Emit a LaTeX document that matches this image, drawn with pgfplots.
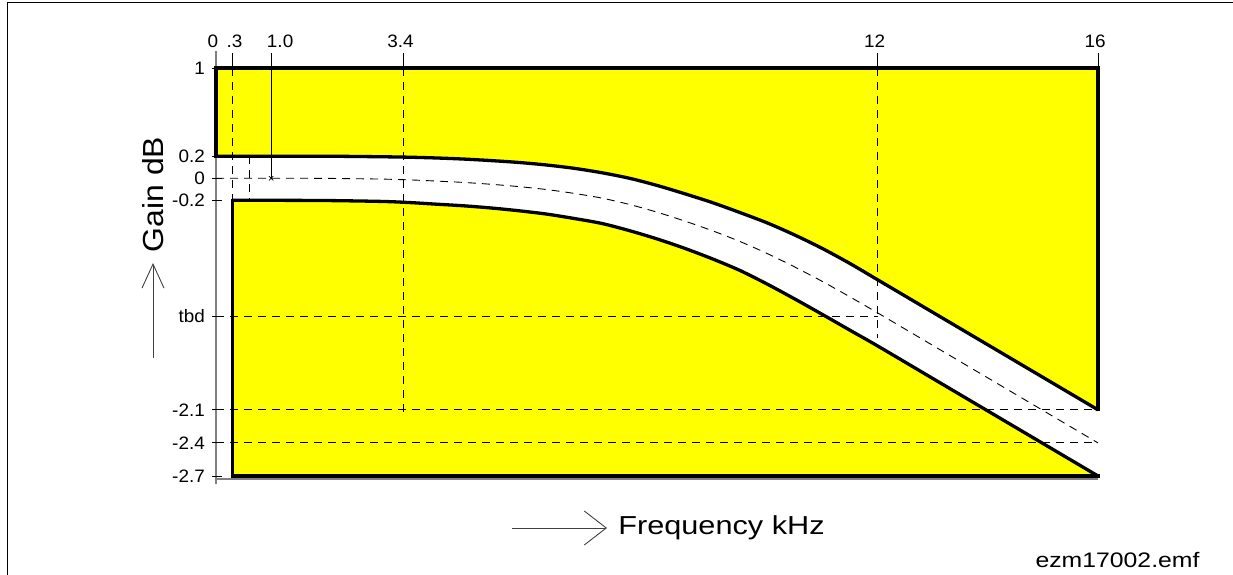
\documentclass[border=0pt]{standalone}
\usepackage{fontspec}
\setmainfont{Liberation Sans}[FakeStretch=1.18]
\newfontfamily\tickfont{Liberation Sans}[FakeStretch=1.05]
\newfontfamily\gainfont{Liberation Sans}[FakeStretch=1.1]
\usepackage{pgfplots}
\usepackage{pgfplotstable}
\pgfplotsset{compat=1.18}
\usetikzlibrary{arrows.meta}
\definecolor{maskyellow}{RGB}{255,255,0}
\definecolor{axisgray}{RGB}{128,128,128}
\pgfplotstableread{
x y
0 0.2
1 0.2
2 0.2
3 0.195
3.5 0.191
4 0.184
4.5 0.174
5 0.16
5.5 0.143
6 0.12
6.5 0.09
7 0.05
7.5 0.0
8 -0.065
8.5 -0.14
9 -0.22
9.5 -0.31
10 -0.405
10.5 -0.515
11 -0.637
11.5 -0.773
12 -0.92
13 -1.215
14 -1.51
15 -1.805
16 -2.1
}\upperdata
\pgfplotstableread{
x y
0.3 -0.2
1 -0.2
2 -0.202
3 -0.21
3.5 -0.22
4 -0.235
4.5 -0.25
5 -0.27
5.5 -0.295
6 -0.325
6.5 -0.365
7 -0.41
7.5 -0.475
8 -0.55
8.5 -0.635
9 -0.73
9.5 -0.835
10 -0.96
10.5 -1.095
11 -1.235
11.5 -1.378
12 -1.52
13 -1.815
14 -2.11
15 -2.405
16 -2.7
}\lowerdata
\pgfplotstableread{
x y
0 0
1 0
2 -0.001
3 -0.0075
3.5 -0.0145
4 -0.0255
4.5 -0.038
5 -0.055
5.5 -0.076
6 -0.1025
6.5 -0.1375
7 -0.18
7.5 -0.2375
8 -0.3075
8.5 -0.3875
9 -0.475
9.5 -0.5725
10 -0.6825
10.5 -0.805
11 -0.936
11.5 -1.0755
12 -1.22
13 -1.515
14 -1.81
15 -2.105
16 -2.4
}\middata
\begin{document}
\begin{tikzpicture}[x=1pt,y=1pt]
% outer frame (left and top edges)
\draw[line width=1.3pt] (7.5,0) -- (7.5,572.5) -- (1233,572.5);
\begin{axis}[
  at={(216pt,99pt)}, anchor=south west,
  scale only axis, width=882pt, height=408pt,
  xmin=0, xmax=16, ymin=-2.7, ymax=1,
  clip=false,
  axis line style={draw=none},
  major tick length=0pt,
  tick style={draw=none},
  xtick={0,0.3,1,3.4,12,16},
  xticklabels={0,{\kern10pt.3},{\kern24pt1.0},3.4,12,16},
  xticklabel pos=upper,
  xticklabel style={anchor=base, inner sep=0pt, xshift=-3pt, yshift=20pt, font=\tickfont\fontsize{18}{21}\selectfont},
  ytick={-2.7,-2.4,-2.1,-1.25,-0.2,0,0.2,1},
  yticklabels={-2.7,-2.4,-2.1,tbd,-0.2,0,0.2,1},
  yticklabel style={anchor=east, inner sep=0pt, xshift=-11pt, font=\tickfont\fontsize{18}{21}\selectfont},
  outline/.style={black, line width=3.3pt, line join=miter},
  guide/.style={black, line width=0.9pt, dash pattern=on 8pt off 6pt},
]
% gray axis lines (behind the mask)
\draw[axisgray, line width=1.3pt] ([yshift=17pt]axis cs:0,1) -- ([yshift=-8pt]axis cs:0,-2.7);
\draw[axisgray, line width=1.3pt] ([yshift=-3pt]axis cs:0,-2.7) -- ([yshift=-3pt]axis cs:16,-2.7);
% yellow mask regions (fill)
\addplot[fill=maskyellow, draw=none] table {\upperdata} -- (axis cs:16,1) -- (axis cs:0,1) -- cycle;
\addplot[fill=maskyellow, draw=none] table {\lowerdata} -- (axis cs:0.3,-2.7) -- cycle;
% nominal response (dashed)
\addplot[guide, smooth] table {\middata};
% dashed guide lines
\addplot[guide] coordinates {(0.3,1) (0.3,-0.2)};
\addplot[guide] coordinates {(0.6,0.2) (0.6,-0.2)};
\addplot[guide] coordinates {(3.4,1) (3.4,-2.14)};
\addplot[guide] coordinates {(12,1) (12,-1.45)};
\addplot[guide] coordinates {(0,-1.25) (12,-1.25)};
\addplot[guide] coordinates {(0,-2.1) (16,-2.1)};
\addplot[guide] coordinates {(0,-2.4) (16,-2.4)};
\addplot[black, line width=0.9pt] coordinates {(1,1) (1,0)};
\addplot[only marks, mark=x, mark size=3pt, black, mark options={line width=0.8pt}] coordinates {(1,0)};
% mask outlines
\addplot[outline, line cap=rect] coordinates {(0,0.2) (0,1) (16,1) (16,-2.1)};
\addplot[outline, smooth, tension=0.5] table {\upperdata};
\addplot[outline, line cap=rect] coordinates {(16,-2.7) (0.3,-2.7) (0.3,-0.2)};
\addplot[outline, smooth, tension=0.5] table {\lowerdata};
% ticks
\pgfplotsinvokeforeach{0.3,1,3.4,12,16}{
  \draw[black, line width=0.9pt] ([yshift=1.6pt]axis cs:#1,1) -- ([yshift=15pt]axis cs:#1,1);
}
\pgfplotsinvokeforeach{-2.7,-2.4,-2.1,-1.25,-0.2,0,0.2,1}{
  \draw[black, line width=0.9pt] ([xshift=-4pt]axis cs:0,#1) -- ([xshift=6pt]axis cs:0,#1);
}
\end{axis}
% axis titles with arrows
\node[rotate=90, anchor=base, inner sep=0pt, font=\gainfont\fontsize{29}{33}\selectfont] at (163,380.5) {Gain dB};
\draw[black!75, line width=0.9pt, -{Straight Barb[length=24pt,width=22pt,line width=0.9pt]}] (153,217) -- (153,312);
\node[anchor=base, inner sep=0pt, font=\fontsize{26}{30}\selectfont] at (721.5,40) {Frequency kHz};
\draw[black!75, line width=0.9pt, -{Straight Barb[length=22pt,width=34pt,line width=0.9pt]}] (512,47) -- (607,47);
\node[anchor=base, inner sep=0pt, font=\fontsize{21}{25}\selectfont] at (1117.5,7) {ezm17002.emf};
\pgfresetboundingbox
\path[use as bounding box] (0,0) rectangle (1233,575);
\end{tikzpicture}
\end{document}
